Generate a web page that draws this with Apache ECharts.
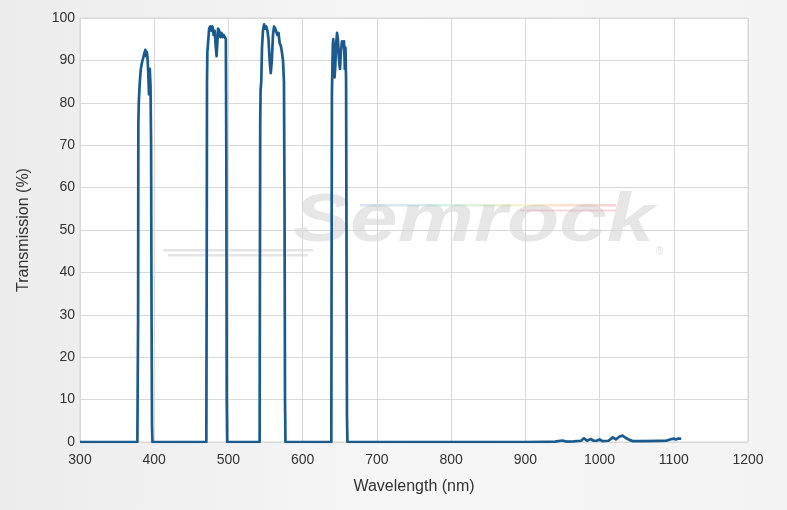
<!DOCTYPE html>
<html>
<head>
<meta charset="utf-8">
<script src="https://cdn.jsdelivr.net/npm/echarts@6/dist/echarts.min.js"></script>
<style>
html,body{margin:0;padding:0;}
#chart{width:787px;height:510px;}
</style>
</head>
<body>
<div id="chart"></div>
<script>
// ---- data (wavelength in nm, transmission in %) ----
const baseStartNm = [300, 377.3];
const baseStartT  = [0, 0];

const band1Nm = [377.8, 378.3, 378.6, 379.2, 380, 381, 382, 383.5, 385, 386.5, 388, 389, 390, 391, 392, 393, 394, 395, 395.8, 396.4, 397, 397.6];
const band1T  = [0, 30, 75, 80, 83, 86, 88, 89.5, 90.5, 91.5, 92.5, 91, 92, 90.5, 87, 82, 88, 84, 70, 30, 4, 0];

const band2Nm = [470.2, 470.7, 471.1, 471.6, 472.5, 474, 475.5, 477, 478.5, 480, 481.5, 483, 484, 485, 486, 487.5, 489, 490.5, 492, 493.5, 495, 496.5, 497.2, 497.7, 498.3];
const band2T  = [0, 40, 85, 92, 94, 97.5, 98, 97, 98, 96, 97, 93, 91, 94, 97.5, 97, 95.5, 96.5, 95.5, 96, 95.5, 95, 65, 10, 0];

const band3Nm = [542, 542.4, 542.8, 543.3, 544.2, 545.2, 546.5, 548, 549.5, 551, 552.5, 554, 555.5, 557, 558.5, 560, 561.5, 563, 564.5, 566, 567.5, 569, 570.5, 572, 573.5, 574.8, 575.6, 576.2, 576.8];
const band3T  = [0, 40, 75, 83, 85, 93, 97, 98.5, 97.5, 98, 97, 95, 90, 87, 90, 96, 98, 97.5, 97.5, 96, 96.5, 94, 93.5, 92, 90, 85, 55, 10, 0];

const band4Nm = [638.6, 639, 639.4, 640, 640.7, 641.3, 642, 643, 644, 645.2, 646.3, 647.5, 649, 650.3, 651.5, 653, 654.5, 655.7, 656.8, 657.7, 658.5, 659.1, 659.7, 660.3];
const band4T  = [0, 45, 82, 88, 94, 95, 91, 86, 89, 94, 96.5, 95, 90, 88, 92, 94.5, 94, 94.5, 88, 93, 85, 45, 6, 0];

const nirNm = [700, 800, 900, 930, 940, 950, 955, 965, 975, 979, 983, 988, 992, 996, 1000, 1004, 1012, 1018, 1022, 1027, 1031, 1035, 1040, 1045, 1060, 1080, 1090, 1095, 1100, 1103, 1106, 1110];
const nirT  = [0, 0, 0, 0.05, 0.1, 0.35, 0.1, 0.15, 0.3, 0.9, 0.3, 0.7, 0.3, 0.3, 0.6, 0.2, 0.3, 1.1, 0.6, 1.3, 1.5, 1.0, 0.5, 0.2, 0.2, 0.25, 0.3, 0.6, 0.8, 0.6, 0.8, 0.8];

const xTicks = [300, 400, 500, 600, 700, 800, 900, 1000, 1100, 1200];
const yTicks = [0, 10, 20, 30, 40, 50, 60, 70, 80, 90, 100];

const xName = 'Wavelength (nm)';
const yName = 'Transmission (%)';

// ---- build series data ----
function pairs(nm, t) { return nm.map((v, i) => [v, t[i]]); }
const curve = [].concat(
  pairs(baseStartNm, baseStartT),
  pairs(band1Nm, band1T),
  pairs(band2Nm, band2T),
  pairs(band3Nm, band3T),
  pairs(band4Nm, band4T),
  pairs(nirNm, nirT)
);

const chart = echarts.init(document.getElementById('chart'), null, {renderer: 'canvas'});
const FONT = '"Liberation Sans", Arial, sans-serif';

chart.setOption({
  animation: false,
  backgroundColor: {
    type: 'linear', x: 0, y: 0, x2: 1, y2: 0,
    colorStops: [{offset: 0, color: '#ececec'}, {offset: 0.5, color: '#f6f6f6'}, {offset: 1, color: '#f3f3f3'}]
  },
  grid: {
    left: 80, right: 39, top: 18, bottom: 68,
    show: true, backgroundColor: '#ffffff', borderColor: '#d6d6d6', borderWidth: 1
  },
  graphic: [
    {
      type: 'group', z: 1, silent: true,
      children: [
        { type: 'rect', shape: {x: 163, y: 249, width: 150, height: 2.5},
          style: {fill: 'rgba(170,170,170,0.32)'} },
        { type: 'rect', shape: {x: 168, y: 254, width: 140, height: 2.5},
          style: {fill: 'rgba(170,170,170,0.32)'} },
        { type: 'rect', shape: {x: 360, y: 204, width: 256, height: 2.5},
          style: {fill: {type: 'linear', x: 0, y: 0, x2: 1, y2: 0, colorStops: [
            {offset: 0, color: 'rgba(190,200,240,0.55)'},
            {offset: 0.3, color: 'rgba(180,230,220,0.55)'},
            {offset: 0.5, color: 'rgba(200,235,180,0.55)'},
            {offset: 0.65, color: 'rgba(245,235,170,0.55)'},
            {offset: 0.8, color: 'rgba(250,200,170,0.55)'},
            {offset: 1, color: 'rgba(245,170,180,0.55)'}
          ]}} },
        { type: 'rect', shape: {x: 520, y: 209.5, width: 96, height: 2},
          style: {fill: 'rgba(245,180,185,0.5)'} },
        { type: 'text', x: 293, y: 256, scaleX: 1.24,
          style: {text: 'Semrock', x: 0, y: 0, fontSize: 69, fontWeight: 'bold', fontStyle: 'italic',
                  fontFamily: FONT, fill: 'rgba(160,160,160,0.26)', textVerticalAlign: 'bottom', textBaseline: 'bottom'} },
        { type: 'text', x: 656, y: 246,
          style: {text: '®', fontSize: 10, fontFamily: FONT, fill: 'rgba(160,160,160,0.4)'} }
      ]
    }
  ],
  xAxis: {
    type: 'value', min: xTicks[0], max: xTicks[xTicks.length - 1], interval: 100,
    name: xName, nameLocation: 'middle', nameGap: 37,
    nameTextStyle: {fontSize: 16, color: '#333', fontFamily: FONT},
    axisLine: {show: false}, axisTick: {show: false},
    axisLabel: {margin: 11, fontSize: 14, color: '#333', fontFamily: FONT, formatter: v => String(v)},
    splitLine: {show: true, lineStyle: {color: '#d8d8d8', width: 1}}
  },
  yAxis: {
    type: 'value', min: yTicks[0], max: yTicks[yTicks.length - 1], interval: 10,
    name: yName, nameLocation: 'middle', nameGap: 48,
    nameTextStyle: {fontSize: 16, color: '#333', fontFamily: FONT},
    axisLine: {show: false}, axisTick: {show: false},
    axisLabel: {margin: 5, fontSize: 14, color: '#333', fontFamily: FONT, formatter: v => String(v)},
    splitLine: {show: true, lineStyle: {color: '#d8d8d8', width: 1}}
  },
  series: [{
    type: 'line', data: curve, showSymbol: false, symbol: 'none',
    lineStyle: {color: '#1b5a8c', width: 2.7, join: 'round'},
    z: 3
  }]
});
</script>
</body>
</html>
